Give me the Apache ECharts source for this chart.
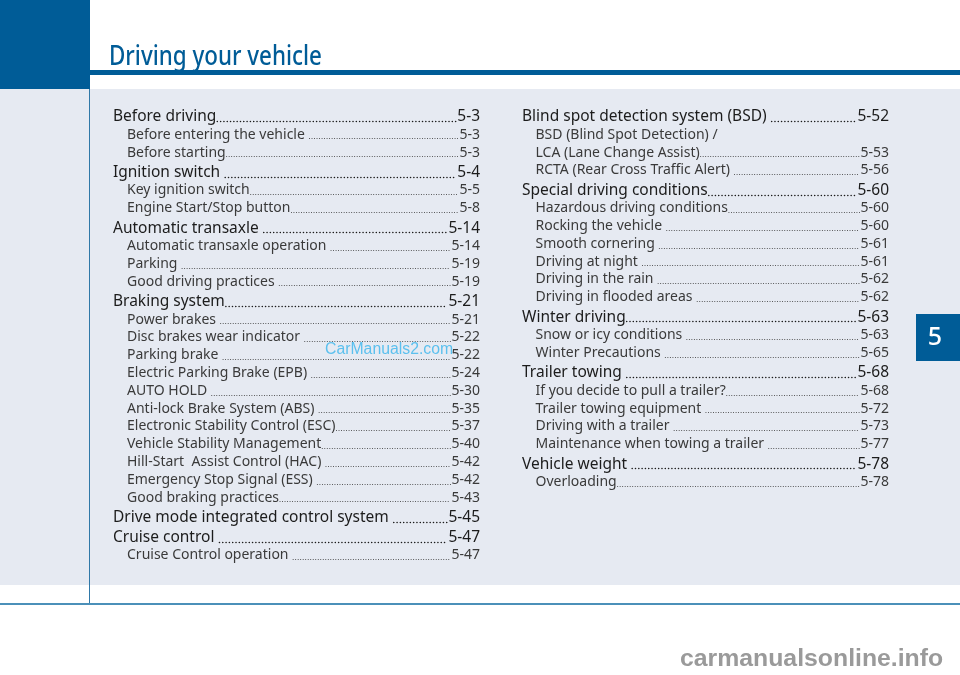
<!DOCTYPE html>
<html>
<head>
<meta charset="utf-8">
<title>Driving your vehicle</title>
<style>
  html, body { margin: 0; padding: 0; background: #fff; }
  #toc { width: 960px; height: 675px; }
</style>
<script src="https://cdn.jsdelivr.net/npm/echarts@6/dist/echarts.min.js"></script>
</head>
<body>
<div id="toc"></div>
<script>
// table of contents, 0 = section heading, 1 = sub entry
var leftTitles = ['Before driving', 'Before entering the vehicle ', 'Before starting', 'Ignition switch ', 'Key ignition switch', 'Engine Start/Stop button', 'Automatic transaxle ', 'Automatic transaxle operation ', 'Parking ', 'Good driving practices ', 'Braking system', 'Power brakes ', 'Disc brakes wear indicator ', 'Parking brake ', 'Electric Parking Brake (EPB) ', 'AUTO HOLD ', 'Anti-lock Brake System (ABS) ', 'Electronic Stability Control (ESC)', 'Vehicle Stability Management', 'Hill-Start  Assist Control (HAC) ', 'Emergency Stop Signal (ESS) ', 'Good braking practices', 'Drive mode integrated control system ', 'Cruise control ', 'Cruise Control operation '];
var leftPages = ['5-3', '5-3', '5-3', '5-4', '5-5', '5-8', '5-14', '5-14', '5-19', '5-19', '5-21', '5-21', '5-22', '5-22', '5-24', '5-30', '5-35', '5-37', '5-40', '5-42', '5-42', '5-43', '5-45', '5-47', '5-47'];
var leftLevels = [0, 1, 1, 0, 1, 1, 0, 1, 1, 1, 0, 1, 1, 1, 1, 1, 1, 1, 1, 1, 1, 1, 0, 0, 1];

var rightTitles = ['Blind spot detection system (BSD) ', 'BSD (Blind Spot Detection) /', 'LCA (Lane Change Assist)', 'RCTA (Rear Cross Traffic Alert) ', 'Special driving conditions', 'Hazardous driving conditions', 'Rocking the vehicle ', 'Smooth cornering ', 'Driving at night ', 'Driving in the rain ', 'Driving in flooded areas ', 'Winter driving', 'Snow or icy conditions ', 'Winter Precautions ', 'Trailer towing ', 'If you decide to pull a trailer?', 'Trailer towing equipment ', 'Driving with a trailer ', 'Maintenance when towing a trailer ', 'Vehicle weight ', 'Overloading'];
var rightPages = ['5-52', '', '5-53', '5-56', '5-60', '5-60', '5-60', '5-61', '5-61', '5-62', '5-62', '5-63', '5-63', '5-65', '5-68', '5-68', '5-72', '5-73', '5-77', '5-78', '5-78'];
var rightLevels = [0, 1, 1, 1, 0, 1, 1, 1, 1, 1, 1, 0, 1, 1, 0, 1, 1, 1, 1, 0, 1];

var pageTitle = 'Driving your vehicle';
var chapterNumber = '5';

var BLUE = '#005c97';
var PANEL = '#e6eaf2';
var FONT = '"Noto Sans", sans-serif';
var headFont = '15.5px ' + FONT;
var subFont = '14px ' + FONT;

var measure = document.createElement('canvas').getContext('2d');
function textWidth(text, font) {
  measure.font = font;
  return measure.measureText(text).width;
}

// rows flow down the column, the step depends on what follows what
function buildRows(titles, pages, levels) {
  var rows = [];
  var y = 116;
  titles.forEach(function (title, i) {
    if (i > 0) {
      if (levels[i] === 1) y += levels[i - 1] === 0 ? 18 : 17.8;
      else y += 19.9;
    }
    rows.push([0, y, levels[i], title, pages[i]]);
  });
  return rows;
}

function tocSeries(rows, headX, subX, endX) {
  return {
    type: 'custom',
    coordinateSystem: 'cartesian2d',
    silent: true,
    clip: false,
    data: rows,
    renderItem: function (params, api) {
      var row = rows[params.dataIndex];
      var isHead = row[2] === 0;
      var font = isHead ? headFont : subFont;
      var color = isHead ? '#1c1c1c' : '#3a3a3a';
      var left = api.coord([isHead ? headX : subX, row[1]]);
      var right = api.coord([endX, row[1]]);
      var textY = left[1] + 0.8;
      var children = [{
        type: 'text',
        style: { x: left[0], y: textY, text: row[3], font: font, fill: color, verticalAlign: 'middle' }
      }];
      if (row[4]) {
        var pageW = textWidth(row[4], font);
        var dotY = Math.round(left[1] + (isHead ? 5 : 4.4)) + 0.5;
        children.push({
          type: 'text',
          style: { x: right[0], y: textY, text: row[4], font: font, fill: color, align: 'right', verticalAlign: 'middle' }
        });
        children.push({
          type: 'line',
          shape: {
            x1: left[0] + textWidth(row[3], font) + 1,
            y1: dotY,
            x2: right[0] - pageW - 1,
            y2: dotY
          },
          style: {
            stroke: color,
            lineWidth: isHead ? 1.6 : 1.05,
            lineCap: 'round',
            lineDash: isHead ? [0.01, 3.3] : [0.01, 2.5]
          }
        });
      }
      return { type: 'group', children: children };
    }
  };
}

var chart = echarts.init(document.getElementById('toc'), null, { renderer: 'canvas' });
chart.setOption({
  animation: false,
  backgroundColor: '#ffffff',
  grid: { left: 0, right: 0, top: 0, bottom: 0 },
  xAxis: { type: 'value', min: 0, max: 960, show: false },
  yAxis: { type: 'value', min: 0, max: 675, inverse: true, show: false },
  graphic: [
    { type: 'rect', z: -10, shape: { x: 0, y: 89, width: 960, height: 496 }, style: { fill: PANEL } },
    { type: 'rect', z: -9, shape: { x: 0, y: 0, width: 90, height: 89 }, style: { fill: BLUE } },
    { type: 'rect', z: -9, shape: { x: 89, y: 70, width: 871, height: 5 }, style: { fill: BLUE } },
    { type: 'rect', z: -9, shape: { x: 89, y: 89, width: 1, height: 515 }, style: { fill: '#2f78a8' } },
    { type: 'rect', z: -9, shape: { x: 0, y: 603, width: 960, height: 2 }, style: { fill: '#4b90b9' } },
    { type: 'rect', z: -9, shape: { x: 916, y: 314, width: 44, height: 47 }, style: { fill: BLUE } },
    { type: 'text', x: 109, y: 57, scaleY: 1.18, style: { x: 0, y: 0, text: pageTitle, font: '500 22.4px ' + FONT, fill: BLUE, verticalAlign: 'middle' } },
    { type: 'text', style: { x: 935, y: 337.5, text: chapterNumber, font: '500 25px ' + FONT, fill: '#ffffff', align: 'center', verticalAlign: 'middle' } },
    { type: 'text', z: 20, style: { x: 325, y: 350, text: 'CarManuals2.com', font: '15.8px "Liberation Sans", sans-serif', fill: '#5cc0ee', verticalAlign: 'middle' } },
    { type: 'text', z: 20, style: { x: 680, y: 659, text: 'carmanualsonline.info', font: 'bold 24.8px "Liberation Sans", sans-serif', fill: '#9a9a9a', verticalAlign: 'middle' } }
  ],
  series: [
    tocSeries(buildRows(leftTitles, leftPages, leftLevels), 113, 127, 480),
    tocSeries(buildRows(rightTitles, rightPages, rightLevels), 522, 535.5, 889)
  ]
});
</script>
</body>
</html>
